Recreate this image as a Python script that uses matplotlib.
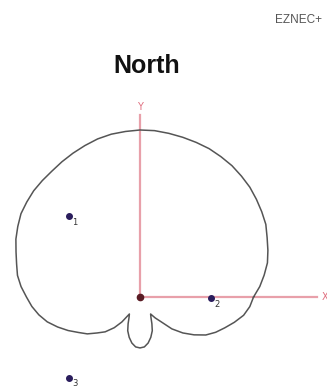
import numpy as np
import matplotlib
matplotlib.use("Agg")
import matplotlib.pyplot as plt

# azimuth pattern (deg, math convention) and relative field, 1.0 = max
azimuth = [0, 5, 10, 15, 20, 25, 30, 35, 40, 45, 50, 55, 60, 65, 70, 75, 80, 85,
           90, 95, 100, 105, 110, 115, 120, 125, 130, 135, 140, 145, 150, 155,
           160, 165, 170, 175, 180, 185, 190, 195, 200, 205, 210, 215, 220, 225,
           230, 234, 238, 242, 246, 250, 255, 260, 265, 270, 275, 280, 285, 290,
           294, 298, 302, 306, 310, 315, 320, 325, 330, 335, 340, 345, 350, 355,
           360]
gain = [0.68, 0.72, 0.755, 0.79, 0.815, 0.84, 0.87, 0.89, 0.91, 0.93, 0.945,
        0.96, 0.97, 0.98, 0.985, 0.99, 0.995, 1.0, 1.0, 0.995, 0.99, 0.98,
        0.965, 0.95, 0.935, 0.92, 0.91, 0.90, 0.885, 0.87, 0.845, 0.82, 0.79,
        0.765, 0.745, 0.715, 0.68, 0.65, 0.615, 0.575, 0.525, 0.475, 0.425,
        0.385, 0.335, 0.295, 0.24, 0.185, 0.12, 0.14, 0.175, 0.215, 0.25, 0.28,
        0.30, 0.305, 0.30, 0.28, 0.25, 0.215, 0.175, 0.14, 0.12, 0.155, 0.19,
        0.27, 0.335, 0.395, 0.455, 0.50, 0.54, 0.585, 0.63, 0.66, 0.68]

# element positions (same units as the pattern)
elem_labels = ["1", "2", "3"]
elem_x = [-0.425, 0.425, -0.425]
elem_y = [0.485, -0.006, -0.485]

R = 167.0  # px per unit
W, H = 327, 391
ox, oy = 140, 297  # origin in image px

fig = plt.figure(figsize=(W / 100, H / 100), dpi=100)
ax = fig.add_axes([0, 0, 1, 1])
ax.set_xlim(-ox / R, (W - ox) / R)
ax.set_ylim(-(H - oy) / R, oy / R)
ax.axis("off")

# axes
axis_col = "#e8a0aa"
ax.plot([0, 1.06], [0, 0], color=axis_col, lw=1.6, zorder=1)
ax.plot([0, 0], [0, 1.09], color=axis_col, lw=1.6, zorder=1)
ax.text(0, 1.14, "Y", color="#e07080", fontsize=7, ha="center", va="center")
ax.text(1.125, 0, "X", color="#e07080", fontsize=7, ha="right", va="center")

# pattern
phi = np.radians(azimuth)
g = np.array(gain)
ax.plot(g * np.cos(phi), g * np.sin(phi), color="#555555", lw=1.1, zorder=2,
        solid_joinstyle="round")

# origin
ax.plot([0], [0], "o", color="#5a1c24", ms=4.5, zorder=3)

# elements
ax.plot(elem_x, elem_y, "o", color="#2a1d5c", ms=4, linestyle="none", zorder=3)
for lab, x, y in zip(elem_labels, elem_x, elem_y):
    ax.text(x + 6 / R, y - 6 / R, lab, fontsize=6, color="#333333",
            ha="center", va="center")

fig.text(147 / W, 1 - 66 / H, "North", fontsize=18, fontweight="bold",
         family="Liberation Sans", ha="center", va="center", color="#111111")
fig.text(322 / W, 1 - 20 / H, "EZNEC+", fontsize=8.5, family="Liberation Sans",
         ha="right", va="center", color="#555555")

fig.savefig("out.png", dpi=100)
